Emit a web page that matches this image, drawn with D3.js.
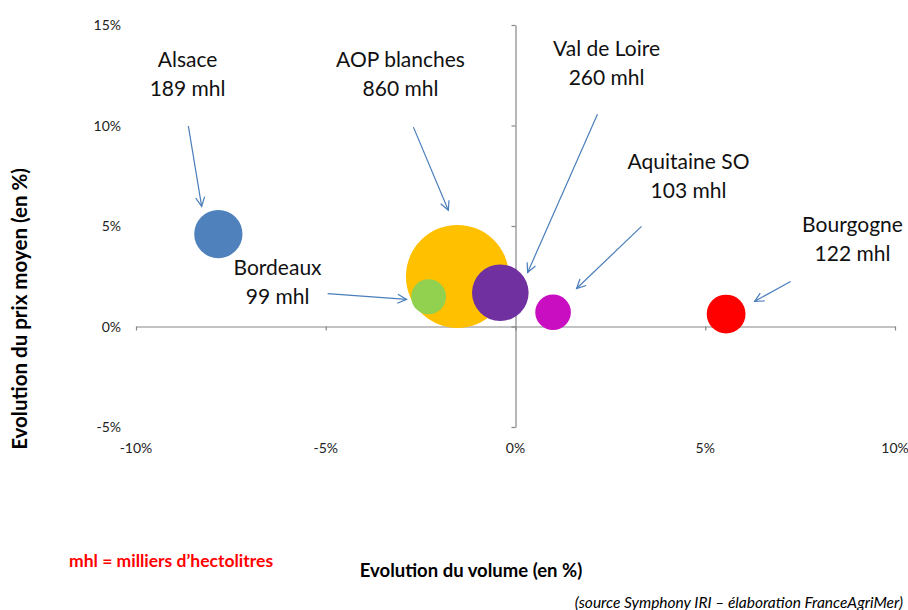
<!DOCTYPE html>
<html><head><meta charset="utf-8">
<script src="https://cdn.jsdelivr.net/npm/d3@7"></script>
<style>
html,body{margin:0;padding:0;background:#fff;}
svg{display:block;}
</style></head>
<body><svg id="c" width="908" height="610"></svg>
<script>
// ---- data ----
const regions = ["AOP blanches","Val de Loire","Alsace","Bourgogne","Aquitaine SO","Bordeaux"];
const volumeChange = [-1.53, -0.40, -7.83, 5.55, 0.99, -2.29];   // % x
const priceChange  = [2.49, 1.68, 4.60, 0.62, 0.71, 1.48];       // % y
const volumes      = [860, 260, 189, 122, 103, 99];              // mhl (bubble size)
const colors       = ["#FFC000","#7030A0","#4F81BD","#FF0000","#C90DC0","#92D050"];
const xTicks = [-10,-5,0,5,10];
const yTicks = [-5,0,5,10,15];
const xTickLabels = ["-10%","-5%","0%","5%","10%"];
const yTickLabels = ["-5%","0%","5%","10%","15%"];
// annotations (data units): label center / arrow start / arrow end
const labelX   = [-3.03, 2.40, -8.64, 8.88, 4.56, -6.27];
const labelY   = [12.9, 13.45, 12.9, 4.68, 7.82, 2.54];
const arrowX1  = [-2.69, 2.16, -8.62, 7.25, 3.32, -4.95];
const arrowY1  = [9.92, 10.56, 9.97, 2.24, 4.98, 1.64];
const arrowX2  = [-1.77, 0.32, -8.27, 6.30, 1.61, -2.87];
const arrowY2  = [5.78, 2.69, 5.98, 1.25, 1.89, 1.35];

const svg = d3.select("#c");
const x = d3.scaleLinear().domain([-10,10]).range([136,895]);
const y = d3.scaleLinear().domain([-5,15]).range([427,25]);
const r = d3.scaleSqrt().domain([0,860]).range([0,51.5]);

const font = "Lato, 'Open Sans', sans-serif";

// axes
const gx = svg.append("g").attr("transform",`translate(0,${y(0)})`)
  .call(d3.axisBottom(x).tickValues(xTicks).tickSize(4).tickFormat("").tickSizeOuter(0));
const gy = svg.append("g").attr("transform",`translate(${x(0)},0)`)
  .call(d3.axisLeft(y).tickValues(yTicks).tickSize(4).tickFormat("").tickSizeOuter(0));
[gx,gy].forEach(g=>{
  g.selectAll("path.domain").attr("stroke","#868686").attr("stroke-width",1.2);
  g.selectAll(".tick line").attr("stroke","#868686").attr("stroke-width",1.2);
});

// tick labels
svg.append("g").selectAll("text").data(xTicks).join("text")
  .attr("x",d=>x(d)).attr("y",453).attr("text-anchor","middle")
  .attr("font-family",font).attr("font-size",14).attr("fill","#222")
  .text((d,i)=>xTickLabels[i]);
svg.append("g").selectAll("text").data(yTicks).join("text")
  .attr("x",121).attr("y",d=>y(d)+5).attr("text-anchor","end")
  .attr("font-family",font).attr("font-size",14).attr("fill","#222")
  .text((d,i)=>yTickLabels[i]);

// bubbles
const idx = d3.range(regions.length).sort((a,b)=>volumes[b]-volumes[a]);
svg.append("g").selectAll("circle").data(idx).join("circle")
  .attr("cx",i=>x(volumeChange[i])).attr("cy",i=>y(priceChange[i]))
  .attr("r",i=>r(volumes[i])).attr("fill",i=>colors[i]);

// arrows
svg.append("defs").append("marker").attr("id","arr")
  .attr("viewBox","-10 -6 12 12").attr("refX",0).attr("refY",0)
  .attr("markerWidth",12).attr("markerHeight",12).attr("markerUnits","userSpaceOnUse")
  .attr("orient","auto")
  .append("path").attr("d","M-9,-4.5 L0,0 L-9,4.5").attr("fill","none")
  .attr("stroke","#4A7EBB").attr("stroke-width",1.2);
svg.append("g").selectAll("line").data(d3.range(regions.length)).join("line")
  .attr("x1",i=>x(arrowX1[i])).attr("y1",i=>y(arrowY1[i]))
  .attr("x2",i=>x(arrowX2[i])).attr("y2",i=>y(arrowY2[i]))
  .attr("stroke","#4A7EBB").attr("stroke-width",1.2).attr("marker-end","url(#arr)");

// labels
const lg = svg.append("g").selectAll("text").data(d3.range(regions.length)).join("text")
  .attr("text-anchor","middle").attr("font-family",font).attr("font-size",21).attr("fill","#111");
lg.append("tspan").attr("x",i=>x(labelX[i])).attr("y",i=>y(labelY[i])).text(i=>regions[i]);
lg.append("tspan").attr("x",i=>x(labelX[i])).attr("dy",29).text(i=>volumes[i]+" mhl");

// axis titles
svg.append("text").attr("transform","translate(27,309) rotate(-90)")
  .attr("text-anchor","middle").attr("font-family",font).attr("font-weight","bold")
  .attr("font-size",20.5).attr("fill","#000").text("Evolution du prix moyen (en %)");
svg.append("text").attr("x",471).attr("y",577).attr("text-anchor","middle")
  .attr("font-family",font).attr("font-weight","bold").attr("font-size",18.5)
  .attr("fill","#000").text("Evolution du volume (en %)");
svg.append("text").attr("x",69).attr("y",567).attr("font-family",font)
  .attr("font-weight","bold").attr("font-size",17.5).attr("fill","#FF0000")
  .text("mhl = milliers d\u2019hectolitres");
svg.append("text").attr("x",903).attr("y",608).attr("text-anchor","end")
  .attr("font-family",font).attr("font-style","italic").attr("font-size",15.5)
  .attr("fill","#000").text("(source Symphony IRI \u2013 \u00e9laboration FranceAgriMer)");
</script></body></html>
